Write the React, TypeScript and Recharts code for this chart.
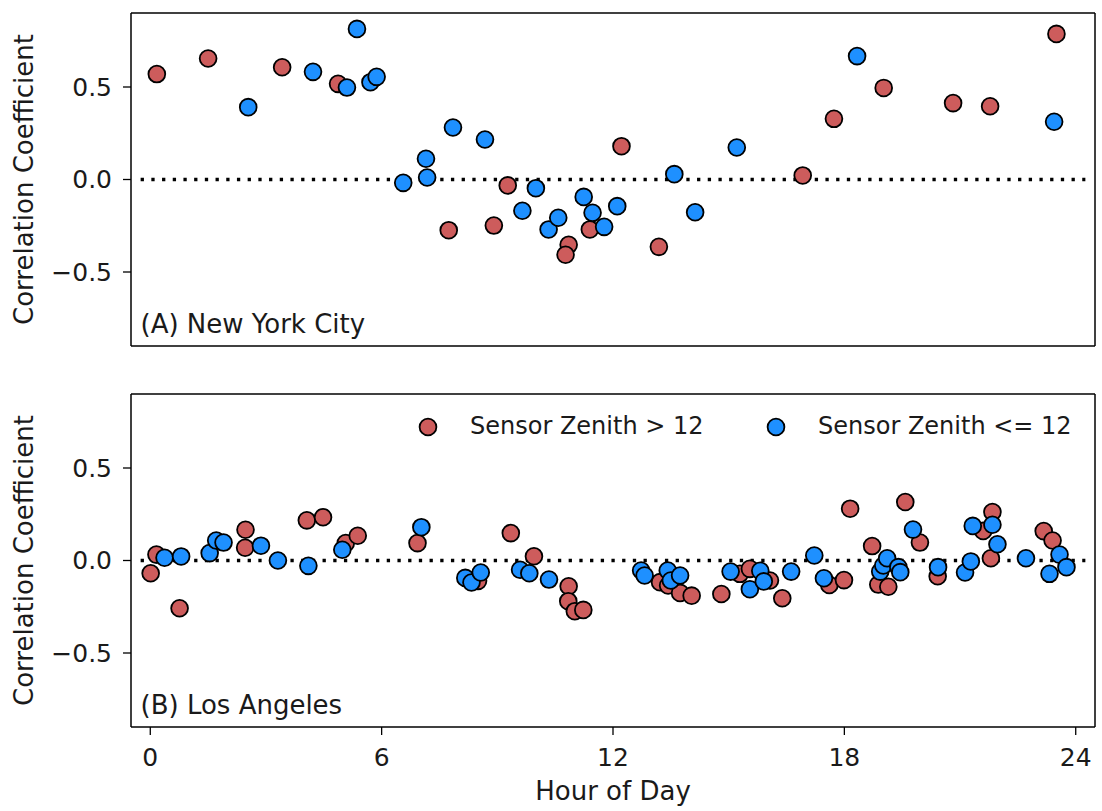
import React from 'react';
import { ScatterChart, Scatter, XAxis, YAxis, ReferenceLine, Legend, Label } from 'recharts';

// ---- data (hour of day, correlation coefficient) ----
const nycHighHour = [0.17, 1.5, 3.42, 4.87, 7.74, 8.91, 9.27, 10.85, 10.77, 11.4, 12.22, 13.19, 16.92, 17.73, 19.02, 20.82, 21.78, 23.5];
const nycHighCorr = [0.57, 0.654, 0.607, 0.517, -0.274, -0.249, -0.032, -0.353, -0.407, -0.27, 0.18, -0.364, 0.022, 0.328, 0.495, 0.413, 0.396, 0.787];

const nycLowHour = [2.54, 4.22, 5.1, 5.36, 5.71, 5.87, 6.56, 7.15, 7.18, 7.85, 8.68, 9.65, 10.0, 10.33, 10.58, 11.24, 11.47, 11.77, 12.11, 13.59, 14.13, 15.21, 18.33, 23.44];
const nycLowCorr = [0.391, 0.582, 0.497, 0.814, 0.526, 0.555, -0.018, 0.112, 0.011, 0.281, 0.216, -0.169, -0.047, -0.27, -0.207, -0.094, -0.18, -0.256, -0.144, 0.029, -0.177, 0.173, 0.667, 0.312];

const laHighHour = [0.01, 0.16, 0.76, 2.46, 2.47, 4.06, 4.48, 5.07, 5.38, 6.93, 8.5, 9.35, 9.95, 10.85, 10.84, 11.01, 11.23, 13.22, 13.43, 13.74, 14.04, 14.81, 15.29, 15.55, 16.07, 16.39, 17.61, 17.99, 18.15, 18.72, 18.88, 19.14, 19.58, 19.96, 20.42, 21.6, 21.84, 21.8, 23.17, 23.4];
const laHighCorr = [-0.069, 0.032, -0.258, 0.069, 0.166, 0.217, 0.234, 0.094, 0.134, 0.094, -0.11, 0.148, 0.023, -0.139, -0.22, -0.274, -0.267, -0.117, -0.135, -0.175, -0.19, -0.181, -0.072, -0.045, -0.108, -0.204, -0.132, -0.106, 0.28, 0.078, -0.13, -0.142, 0.316, 0.097, -0.085, 0.16, 0.262, 0.012, 0.159, 0.108];

const laLowHour = [0.37, 0.8, 1.54, 1.71, 1.9, 2.87, 3.31, 4.1, 4.98, 7.03, 8.17, 8.33, 8.57, 9.59, 9.83, 10.34, 12.73, 12.82, 13.42, 13.5, 13.74, 15.05, 15.55, 15.82, 15.91, 16.62, 17.22, 17.47, 18.93, 19.01, 19.11, 19.4, 19.45, 19.78, 20.43, 21.13, 21.28, 21.33, 21.84, 21.97, 22.71, 23.32, 23.58, 23.76];
const laLowCorr = [0.015, 0.022, 0.04, 0.108, 0.097, 0.08, 0.0, -0.029, 0.058, 0.18, -0.094, -0.119, -0.065, -0.05, -0.069, -0.103, -0.054, -0.081, -0.054, -0.108, -0.081, -0.06, -0.155, -0.056, -0.113, -0.06, 0.027, -0.096, -0.06, -0.027, 0.012, -0.036, -0.063, 0.167, -0.036, -0.065, -0.005, 0.187, 0.193, 0.088, 0.012, -0.072, 0.032, -0.036];

const hourTicks = [0, 6, 12, 18, 24];
const corrTicks = [-0.5, 0, 0.5];
const seriesNames = ['Sensor Zenith > 12', 'Sensor Zenith <= 12'];
const panelTitles = ['(A) New York City', '(B) Los Angeles'];
const xLabel = 'Hour of Day';
const yLabel = 'Correlation Coefficient';

const RED = '#cd5c5c';
const BLUE = '#1e90ff';
const FONT = 'DejaVu Sans';
const TXT = '#1a1a1a';

const toPoints = (xs: number[], ys: number[]) => xs.map((x, i) => ({ x, y: ys[i] }));

const fmtCorr = (v: number) => (v < 0 ? '\u2212' : '') + Math.abs(v).toFixed(1);

const makeDot = (color: string) => (p: any) => (
  <circle cx={p.cx} cy={p.cy} r={8.4} fill={color} stroke="#000" strokeWidth={1.8} />
);

const axisLineStyle = { stroke: '#000', strokeWidth: 1.5 };
const tickLineStyle = { stroke: '#000', strokeWidth: 1.3 };
const tickFont = { fontSize: 25, fill: TXT, fontFamily: FONT };

const renderYLabel = (props: any) => {
  const vb = props.viewBox || {};
  const cy = vb.y + vb.height / 2;
  return (
    <text transform={`translate(32.5, ${cy}) rotate(-90)`} textAnchor="middle" fontSize={26} fill={TXT} fontFamily={FONT}>
      {yLabel}
    </text>
  );
};

const renderXLabel = (props: any) => {
  const vb = props.viewBox || {};
  return (
    <text x={vb.x + vb.width / 2} y={vb.y + 73} textAnchor="middle" fontSize={26} fill={TXT} fontFamily={FONT}>
      {xLabel}
    </text>
  );
};

const legendX = [428, 776];

const renderLegend = (props: any) => {
  const payload = props.payload || [];
  return (
    <div style={{ position: 'relative', width: 1102, height: 100 }}>
      {seriesNames.map((name, i) => {
        const item = payload.find((p: any) => p.value === name) || { value: name, color: i === 0 ? RED : BLUE };
        return (
          <React.Fragment key={name}>
            <svg width={22} height={22} style={{ position: 'absolute', left: legendX[i] - 11, top: 57 - 11 }}>
              <circle cx={11} cy={11} r={8.4} fill={item.color} stroke="#000" strokeWidth={1.8} />
            </svg>
            <span
              style={{
                position: 'absolute',
                left: legendX[i] + 42,
                top: 43.7,
                fontSize: 24,
                lineHeight: '24px',
                fontFamily: FONT,
                color: TXT,
                whiteSpace: 'nowrap',
              }}
            >
              {item.value}
            </span>
          </React.Fragment>
        );
      })}
    </div>
  );
};

function Panel(props: { high: any[]; low: any[]; title: string; bottom: boolean }) {
  const { high, low, title, bottom } = props;
  const topH = bottom ? 24 : 13;
  const botH = bottom ? 84 : 24;
  const height = topH + 333 + botH;
  return (
    <ScatterChart width={1102} height={height} margin={{ top: 0, right: 0, bottom: 0, left: 0 }}>
      <XAxis
        xAxisId="b"
        type="number"
        dataKey="x"
        orientation="bottom"
        domain={[-0.5, 24.5]}
        ticks={hourTicks}
        allowDataOverflow
        height={botH}
        tickSize={8}
        tickMargin={13}
        tick={bottom ? tickFont : false}
        axisLine={axisLineStyle}
        tickLine={tickLineStyle}
        label={bottom ? <Label content={renderXLabel} /> : undefined}
      />
      <XAxis
        xAxisId="t"
        type="number"
        orientation="top"
        domain={[-0.5, 24.5]}
        ticks={hourTicks}
        allowDataOverflow
        height={topH}
        tickSize={8}
        tick={false}
        axisLine={axisLineStyle}
        tickLine={tickLineStyle}
      />
      <YAxis
        yAxisId="l"
        type="number"
        dataKey="y"
        domain={[-0.9, 0.9]}
        ticks={corrTicks}
        allowDataOverflow
        width={131}
        tickSize={8}
        tickMargin={11}
        tick={tickFont}
        tickFormatter={fmtCorr}
        axisLine={axisLineStyle}
        tickLine={tickLineStyle}
        label={<Label content={renderYLabel} />}
      />
      <YAxis
        yAxisId="r"
        type="number"
        orientation="right"
        domain={[-0.9, 0.9]}
        ticks={corrTicks}
        allowDataOverflow
        width={7}
        tickSize={8}
        tick={false}
        axisLine={axisLineStyle}
        tickLine={tickLineStyle}
      />
      <ReferenceLine
        xAxisId="b"
        yAxisId="l"
        segment={[{ x: -0.25, y: 0 }, { x: 24.25, y: 0 }]}
        stroke="#000"
        strokeWidth={3.3}
        strokeDasharray="3.3 7.4"
        ifOverflow="visible"
      />
      <Scatter xAxisId="b" yAxisId="l" name={seriesNames[0]} data={high} fill={RED} shape={makeDot(RED)} isAnimationActive={false} />
      <Scatter xAxisId="b" yAxisId="l" name={seriesNames[1]} data={low} fill={BLUE} shape={makeDot(BLUE)} isAnimationActive={false} />
      {bottom ? (
        <Legend
          layout="horizontal"
          verticalAlign="middle"
          align="center"
          content={renderLegend}
          wrapperStyle={{ position: 'absolute', left: 0, top: 0, width: 1102, height: 100, margin: 0 }}
        />
      ) : null}
      <text x={140.5} y={topH + 333 - 13.5} fontSize={26} fill={TXT} fontFamily={FONT}>
        {title}
      </text>
    </ScatterChart>
  );
}

export default function App() {
  const nycHigh = toPoints(nycHighHour, nycHighCorr);
  const nycLow = toPoints(nycLowHour, nycLowCorr);
  const laHigh = toPoints(laHighHour, laHighCorr);
  const laLow = toPoints(laLowHour, laLowCorr);
  return (
    <div style={{ position: 'absolute', left: 0, top: 0, width: 1102, height: 811, background: '#fff', fontFamily: FONT }}>
      <div style={{ position: 'absolute', left: 0, top: 0 }}>
        <Panel high={nycHigh} low={nycLow} title={panelTitles[0]} bottom={false} />
      </div>
      <div style={{ position: 'absolute', left: 0, top: 370 }}>
        <Panel high={laHigh} low={laLow} title={panelTitles[1]} bottom={true} />
      </div>
    </div>
  );
}
